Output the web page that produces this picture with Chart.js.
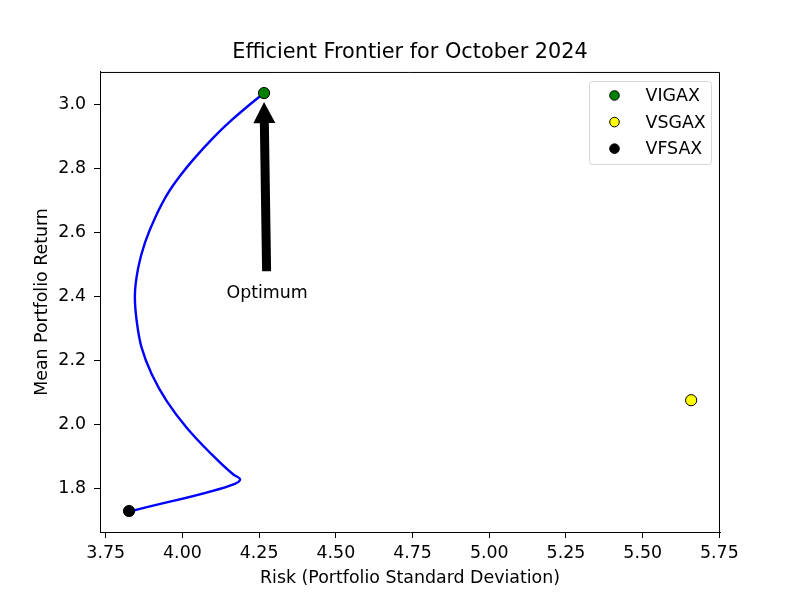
<!DOCTYPE html>
<html>
<head>
<meta charset="utf-8">
<script src="https://cdn.jsdelivr.net/npm/chart.js@4.4.1/dist/chart.umd.min.js"></script>
<style>
  html, body { margin: 0; padding: 0; background: #fff; }
  #wrap { width: 800px; height: 600px; }
</style>
</head>
<body>
<div id="wrap"><canvas id="frontier" width="800" height="600"></canvas></div>
<script>
// efficient frontier curve
const frontierRisk = [3.835, 4.171, 4.188, 4.166, 4.090, 4.014, 3.949, 3.900, 3.867, 3.851, 3.845, 3.856, 3.878, 3.911, 3.954, 3.992, 4.036, 4.101, 4.161, 4.212, 4.266];
const frontierReturn = [1.730, 1.815, 1.829, 1.844, 1.912, 1.990, 2.073, 2.157, 2.240, 2.323, 2.400, 2.490, 2.568, 2.646, 2.724, 2.776, 2.828, 2.896, 2.951, 2.993, 3.035];

// single funds
const fundNames = ['VIGAX', 'VSGAX', 'VFSAX'];
const fundRisk = [4.266, 5.658, 3.826];
const fundReturn = [3.035, 2.076, 1.730];
const fundColors = ['#008000', '#ffff00', '#000000'];

const xTicks = [3.75, 4.00, 4.25, 4.50, 4.75, 5.00, 5.25, 5.50, 5.75];
const yTicks = [1.8, 2.0, 2.2, 2.4, 2.6, 2.8, 3.0];

const optimumLabel = 'Optimum';
const optimumText = { x: 4.276, y: 2.41 };

const FS = 17.4; // tick / label font size
Chart.defaults.font.family = '"DejaVu Sans", sans-serif';
Chart.defaults.color = '#000';

const fundSets = fundNames.map((name, i) => ({
  type: 'scatter',
  label: name,
  data: [{ x: fundRisk[i], y: fundReturn[i] }],
  backgroundColor: fundColors[i],
  borderColor: '#000',
  borderWidth: 1,
  pointRadius: 5.6,
}));

// return rises along the whole curve, so interpolate along y
const frontierSet = {
  type: 'line',
  label: 'frontier',
  indexAxis: 'y',
  data: frontierRisk.map((x, i) => ({ x, y: frontierReturn[i] })),
  borderColor: '#0000ff',
  borderWidth: 2.4,
  pointRadius: 0,
  cubicInterpolationMode: 'monotone',
  fill: false,
};

// top/right spines, the optimum arrow and the legend box
const extras = {
  id: 'extras',
  afterDatasetsDraw(chart) {
    const { ctx, chartArea: a, scales } = chart;
    ctx.save();
    ctx.strokeStyle = '#000';
    ctx.lineWidth = 1;
    ctx.beginPath();
    ctx.moveTo(a.left, a.top + 0.5);
    ctx.lineTo(a.right - 0.5, a.top + 0.5);
    ctx.lineTo(a.right - 0.5, a.bottom);
    ctx.stroke();

    // arrow from the text to the optimum point
    const tx = scales.x.getPixelForValue(optimumText.x);
    const ty = scales.y.getPixelForValue(optimumText.y);
    const px = scales.x.getPixelForValue(fundRisk[0]);
    const py = scales.y.getPixelForValue(fundReturn[0]);
    const x0 = tx - 0.5, y0 = ty - 22;
    const x1 = px, y1 = py + 9;
    const len = Math.hypot(x1 - x0, y1 - y0);
    const ux = (x1 - x0) / len, uy = (y1 - y0) / len;
    const nx = -uy, ny = ux;
    const sw = 4.5, hw = 11, hl = 21;
    const bx = x1 - ux * hl, by = y1 - uy * hl;
    ctx.fillStyle = '#000';
    ctx.beginPath();
    ctx.moveTo(x0 + nx * sw, y0 + ny * sw);
    ctx.lineTo(bx + nx * sw, by + ny * sw);
    ctx.lineTo(bx + nx * hw, by + ny * hw);
    ctx.lineTo(x1, y1);
    ctx.lineTo(bx - nx * hw, by - ny * hw);
    ctx.lineTo(bx - nx * sw, by - ny * sw);
    ctx.lineTo(x0 - nx * sw, y0 - ny * sw);
    ctx.closePath();
    ctx.fill();

    ctx.font = FS + 'px "DejaVu Sans", sans-serif';
    ctx.textAlign = 'center';
    ctx.textBaseline = 'middle';
    ctx.fillText(optimumLabel, tx, ty);

    // legend, upper right
    const lx = a.right - 130.5, ly = a.top + 9.5, lw = 122, lh = 83, r = 3;
    ctx.beginPath();
    ctx.moveTo(lx + r, ly);
    ctx.arcTo(lx + lw, ly, lx + lw, ly + lh, r);
    ctx.arcTo(lx + lw, ly + lh, lx, ly + lh, r);
    ctx.arcTo(lx, ly + lh, lx, ly, r);
    ctx.arcTo(lx, ly, lx + lw, ly, r);
    ctx.closePath();
    ctx.fillStyle = 'rgba(255,255,255,0.8)';
    ctx.fill();
    ctx.strokeStyle = '#d6d6d6';
    ctx.stroke();

    ctx.textAlign = 'left';
    fundSets.forEach((ds, i) => {
      const cy = ly + 14 + i * 26.6;
      ctx.beginPath();
      ctx.arc(lx + 25, cy, 4.8, 0, Math.PI * 2);
      ctx.fillStyle = ds.backgroundColor;
      ctx.fill();
      ctx.strokeStyle = '#000';
      ctx.lineWidth = 1;
      ctx.stroke();
      ctx.fillStyle = '#000';
      ctx.fillText(ds.label, lx + 56, cy + 1);
    });
    ctx.restore();
  }
};

new Chart(document.getElementById('frontier'), {
  data: { datasets: [...fundSets, frontierSet] },
  options: {
    responsive: false,
    devicePixelRatio: 1,
    animation: false,
    layout: { padding: { left: 0, right: 80, top: 0, bottom: 0 } },
    plugins: {
      legend: { display: false },
      tooltip: { enabled: false },
      title: {
        display: true,
        fullSize: false,
        text: 'Efficient Frontier for October 2024',
        color: '#000',
        font: { size: 20.8, weight: 'normal' },
        padding: { top: 40.5, bottom: 6.5 },
      },
    },
    scales: {
      x: {
        type: 'linear',
        min: 3.7314,
        max: 5.752,
        afterFit: (s) => { s.height = 68; },
        afterBuildTicks: (s) => { s.ticks = xTicks.map(v => ({ value: v })); },
        ticks: {
          color: '#000',
          font: { size: FS },
          padding: 5,
          maxRotation: 0,
          callback: (v) => Number(v).toFixed(2),
        },
        grid: { drawOnChartArea: false, drawTicks: true, tickLength: 6, color: '#000' },
        border: { display: true, color: '#000', width: 1 },
        title: {
          display: true,
          text: 'Risk (Portfolio Standard Deviation)',
          color: '#000',
          font: { size: FS },
          padding: { top: 0, bottom: 11.5 },
        },
      },
      y: {
        type: 'linear',
        min: 1.6645,
        max: 3.1009,
        afterFit: (s) => { s.width = 100; },
        afterBuildTicks: (s) => { s.ticks = yTicks.map(v => ({ value: v })); },
        ticks: {
          color: '#000',
          font: { size: FS },
          padding: 8,
          callback: (v) => Number(v).toFixed(1),
        },
        grid: { drawOnChartArea: false, drawTicks: true, tickLength: 6, color: '#000' },
        border: { display: true, color: '#000', width: 1 },
        title: {
          display: true,
          text: 'Mean Portfolio Return',
          color: '#000',
          font: { size: FS },
          padding: { top: 32.5, bottom: 0 },
        },
      },
    },
  },
  plugins: [extras],
});
</script>
</body>
</html>
